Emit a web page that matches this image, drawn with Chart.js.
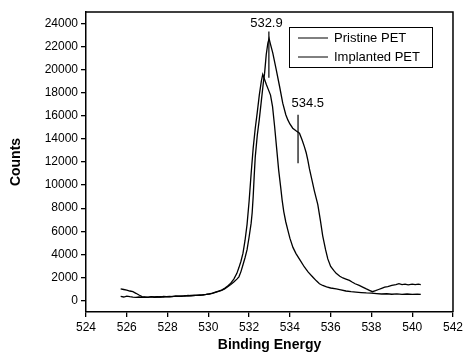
<!DOCTYPE html>
<html>
<head>
<meta charset="utf-8">
<script src="https://cdn.jsdelivr.net/npm/chart.js@4/dist/chart.umd.min.js"></script>
<style>
  html, body { margin: 0; padding: 0; background: #fff; }
  #wrap { width: 466px; height: 360px; }
</style>
</head>
<body>
<div id="wrap"><canvas id="grafico"></canvas></div>
<script>
/* =====================================================
   XPS O1s — Pristine vs Implanted PET
===================================================== */

// energías de enlace (eV) y cuentas
const pristineE = [
  525.7, 525.85, 526.0, 526.15, 526.3, 526.45, 526.6, 526.75, 526.9, 527.05,
  527.2, 527.35, 527.5, 527.65, 527.8, 527.95, 528.1, 528.25, 528.4, 528.55,
  528.7, 528.85, 529.0, 529.15, 529.3, 529.45, 529.6, 529.75, 529.9, 530.05,
  530.2, 530.35, 530.5, 530.65, 530.8, 530.95, 531.1, 531.25, 531.4, 531.5,
  531.6, 531.7, 531.8, 531.9, 532.0, 532.1, 532.15, 532.2, 532.25, 532.3,
  532.4, 532.5, 532.6, 532.7, 532.76, 532.84, 532.92, 532.98, 533.05, 533.16,
  533.33, 533.5, 533.65, 533.8, 533.9, 534.0, 534.14, 534.3, 534.47, 534.6,
  534.71, 534.8, 534.88, 534.96, 535.1, 535.2, 535.37, 535.5, 535.61, 535.75,
  535.86, 536.0, 536.15, 536.27, 536.45, 536.6, 536.75, 536.92, 537.05, 537.2,
  537.4, 537.57, 537.75, 537.9, 538.05, 538.2, 538.35, 538.5, 538.65, 538.8,
  539.0, 539.2, 539.35, 539.5, 539.65, 539.8, 540.0, 540.15, 540.3, 540.42
]
const pristineCounts = [
  1000, 950, 900, 820, 760, 620, 470, 340, 300, 290,
  330, 300, 320, 290, 350, 330, 360, 330, 390, 370,
  400, 380, 430, 410, 450, 440, 480, 470, 530, 560,
  620, 700, 780, 880, 1000, 1180, 1380, 1600, 1850, 2050,
  2500, 3100, 3700, 4400, 5500, 6700, 7600, 9000, 10800, 12400,
  14300, 15700, 17300, 18900, 19700, 21300, 22300, 22700, 22200, 21450,
  20000, 18500, 17100, 16100, 15650, 15300, 14930, 14700, 14490, 13900,
  13330, 12800, 12170, 11400, 10300, 9500, 8300, 6900, 5600, 4400,
  3600, 2950, 2600, 2350, 2100, 1950, 1850, 1740, 1600, 1450,
  1300, 1160, 1000, 880, 760, 850, 950, 1050, 1150, 1200,
  1300, 1380, 1450, 1380, 1420, 1360, 1420, 1370, 1410, 1380
]

const implantedE = [
  525.7, 525.85, 526.0, 526.15, 526.3, 526.45, 526.6, 526.75, 526.9, 527.05,
  527.2, 527.35, 527.5, 527.65, 527.8, 527.95, 528.1, 528.25, 528.4, 528.55,
  528.7, 528.85, 529.0, 529.15, 529.3, 529.45, 529.6, 529.75, 529.9, 530.05,
  530.2, 530.35, 530.5, 530.65, 530.8, 530.95, 531.1, 531.25, 531.4, 531.5,
  531.6, 531.7, 531.8, 531.9, 532.0, 532.1, 532.2, 532.3, 532.4, 532.5,
  532.6, 532.67, 532.75, 532.85, 532.95, 533.05, 533.15, 533.25, 533.35, 533.45,
  533.55, 533.62, 533.7, 533.8, 533.9, 534.0, 534.15, 534.3, 534.5, 534.71,
  534.9, 535.12, 535.3, 535.45, 535.61, 535.8, 536.0, 536.27, 536.5, 536.75,
  537.0, 537.24, 537.5, 537.75, 538.0, 538.25, 538.5, 538.75, 539.0, 539.25,
  539.5, 539.75, 540.0, 540.25, 540.42
]
const implantedCounts = [
  350, 300, 380, 330, 290, 260, 300, 270, 290, 260,
  310, 280, 300, 320, 300, 340, 320, 360, 350, 380,
  360, 410, 390, 430, 420, 460, 450, 500, 520, 580,
  640, 720, 800, 900, 1050, 1250, 1500, 1850, 2350, 2850,
  3400, 4100, 5200, 6600, 8600, 11000, 13200, 14900, 16300, 17800,
  19000, 19600, 19200, 18700, 18250, 17800, 16800, 15100, 13200, 11300,
  9800, 8700, 7700, 6800, 6100, 5400, 4600, 4060, 3500, 2900,
  2450, 2030, 1700, 1450, 1300, 1180, 1080, 1000, 920, 820,
  760, 720, 680, 650, 640, 600, 560, 580, 540, 570,
  520, 560, 520, 550, 520
]

const seriesLabels = ["Pristine PET", "Implanted PET"]

// marcas de ejes
const xTicks = [524, 526, 528, 530, 532, 534, 536, 538, 540, 542]
const yTicks = [0, 2000, 4000, 6000, 8000, 10000, 12000, 14000, 16000, 18000, 20000, 22000, 24000]

// anotaciones de picos: texto, energía de la línea, cuentas inicio/fin de línea
const peakLabels = ["532.9", "534.5"]
const peakLineE = [532.97, 534.4]
const peakLineTop = [23300, 16100]
const peakLineBottom = [19300, 11900]
const peakTextE = [532.85, 534.88]
const peakTextCounts = [23700, 16800]

const FUENTE = "'Liberation Sans', Arial, sans-serif"

function puntos(xs, ys) {
  return xs.map((x, i) => ({ x, y: ys[i] }))
}

/* =====================================================
   Plugin: marco, anotaciones y leyenda
===================================================== */
const extras = {
  id: "extras",
  afterDatasetsDraw(chart) {
    const { ctx, chartArea: a, scales } = chart
    const sx = scales.x, sy = scales.y
    ctx.save()

    // marco superior y derecho
    ctx.strokeStyle = "#000"
    ctx.lineWidth = 1.5
    ctx.beginPath()
    ctx.moveTo(a.left, a.top)
    ctx.lineTo(a.right, a.top)
    ctx.lineTo(a.right, a.bottom)
    ctx.stroke()

    // anotaciones de picos
    ctx.lineWidth = 1.2
    ctx.fillStyle = "#000"
    ctx.font = "13px " + FUENTE
    ctx.textAlign = "center"
    ctx.textBaseline = "alphabetic"
    peakLabels.forEach((txt, i) => {
      const px = sx.getPixelForValue(peakLineE[i])
      ctx.beginPath()
      ctx.moveTo(px, sy.getPixelForValue(peakLineTop[i]))
      ctx.lineTo(px, sy.getPixelForValue(peakLineBottom[i]))
      ctx.stroke()
      ctx.fillText(txt, sx.getPixelForValue(peakTextE[i]), sy.getPixelForValue(peakTextCounts[i]))
    })

    // leyenda
    const lx = 289, ly = 27, lw = 143, lh = 40
    ctx.fillStyle = "#fff"
    ctx.fillRect(lx, ly, lw, lh)
    ctx.lineWidth = 1
    ctx.strokeRect(lx + 0.5, ly + 0.5, lw, lh)
    ctx.fillStyle = "#000"
    ctx.textAlign = "left"
    ctx.textBaseline = "middle"
    seriesLabels.forEach((lab, i) => {
      const y = ly + 11 + i * 19
      ctx.beginPath()
      ctx.moveTo(lx + 9, y)
      ctx.lineTo(lx + 39, y)
      ctx.stroke()
      ctx.fillText(lab, lx + 45, y)
    })

    ctx.restore()
  }
}

new Chart(document.getElementById("grafico"), {
  type: "line",
  data: {
    datasets: [
      {
        label: seriesLabels[0],
        data: puntos(pristineE, pristineCounts),
        borderColor: "#000",
        borderWidth: 1.3,
        pointRadius: 0,
        tension: 0,
        fill: false,
      },
      {
        label: seriesLabels[1],
        data: puntos(implantedE, implantedCounts),
        borderColor: "#000",
        borderWidth: 1.3,
        pointRadius: 0,
        tension: 0,
        fill: false,
      }
    ]
  },
  options: {
    responsive: true,
    maintainAspectRatio: false,
    animation: false,
    layout: { padding: { top: 12, right: 12, left: 0, bottom: 0 } },
    plugins: { legend: { display: false }, tooltip: { enabled: false } },
    scales: {
      x: {
        type: "linear",
        min: 524,
        max: 542,
        afterBuildTicks: s => { s.ticks = xTicks.map(v => ({ value: v })) },
        afterFit: s => { s.height = 48 },
        ticks: {
          color: "#000", font: { family: FUENTE, size: 12 }, padding: 3, maxRotation: 0,
          callback: v => String(v)
        },
        grid: { drawOnChartArea: false, color: "#000", tickLength: 5, lineWidth: 1.3 },
        border: { color: "#000", width: 1.5 },
        title: {
          display: true,
          text: "Binding Energy",
          color: "#000",
          font: { family: FUENTE, size: 14, weight: "bold" },
          padding: { top: 0, bottom: 6 },
        }
      },
      y: {
        min: -1000,
        max: 25000,
        afterBuildTicks: s => { s.ticks = yTicks.map(v => ({ value: v })) },
        afterFit: s => { s.width = 86 },
        ticks: {
          color: "#000", font: { family: FUENTE, size: 12 }, padding: 3,
          callback: v => String(v)
        },
        grid: { drawOnChartArea: false, color: "#000", tickLength: 5, lineWidth: 1.3 },
        border: { color: "#000", width: 1.5 },
        title: {
          display: true,
          text: "Counts",
          color: "#000",
          font: { family: FUENTE, size: 14, weight: "bold" },
          padding: { top: 8, bottom: 0 },
        }
      }
    }
  },
  plugins: [extras]
})
</script>
</body>
</html>
